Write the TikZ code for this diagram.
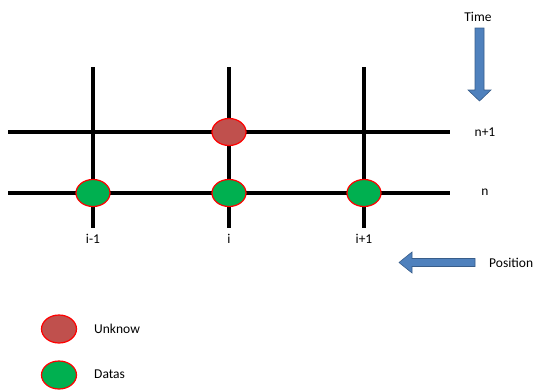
\documentclass[tikz,border=0pt]{standalone}
\usepackage{fontspec}
\setmainfont{Carlito}
\usetikzlibrary{shapes.geometric,arrows.meta}
\definecolor{unk}{HTML}{C0504D}
\definecolor{dat}{HTML}{00B050}
\definecolor{arrfill}{HTML}{4F81BD}
\definecolor{arrline}{HTML}{385D8A}
\tikzset{
  gridline/.style={line width=3.3pt, black},
  pt/.style={ellipse, draw=red, line width=1.2pt, minimum width=34pt, minimum height=27pt, inner sep=0pt},
  unknown/.style={pt, fill=unk},
  data/.style={pt, fill=dat},
  lbl/.style={font=\fontsize{13.5}{15}\selectfont, inner sep=0pt},
  bigarrow/.style={fill=arrfill, draw=arrline, line width=0.6pt}
}
\begin{document}
\begin{tikzpicture}[x=1pt,y=-1pt]
\useasboundingbox (0,0) rectangle (543,391);
% grid lines
\coordinate (h1a) at (8,132); \coordinate (h1b) at (450,132);
\coordinate (h2a) at (8,193); \coordinate (h2b) at (450,193);
\coordinate (v1a) at (93,67); \coordinate (v1b) at (93,228);
\coordinate (v2a) at (229,67); \coordinate (v2b) at (229,228);
\coordinate (v3a) at (364,67); \coordinate (v3b) at (364,228);
\draw[gridline] (h1a) -- (h1b);
\draw[gridline] (h2a) -- (h2b);
\draw[gridline] (v1a) -- (v1b);
\draw[gridline] (v2a) -- (v2b);
\draw[gridline] (v3a) -- (v3b);
% points
\node[unknown] (u) at (229,132) {};
\node[data] (d1) at (93,193) {};
\node[data] (d2) at (229,193) {};
\node[data] (d3) at (364,193) {};
% labels
\node[lbl] (ln1) at (485,132) {n+1};
\node[lbl] (ln) at (485,192) {n};
\node[lbl] (li1) at (93,239) {i-1};
\node[lbl] (li) at (229,239) {i};
\node[lbl] (li2) at (364,239) {i+1};
\node[lbl] (time) at (478,17) {Time};
\node[lbl, anchor=west] (pos) at (489,263) {Position};
% time arrow
\draw[bigarrow] (475,28) -- (484,28) -- (484,90) -- (491,90) -- (479.5,101) -- (468,90) -- (475,90) -- cycle;
% position arrow
\draw[bigarrow] (475,258.5) -- (475,266.5) -- (412,266.5) -- (412,273) -- (399,262.5) -- (412,252) -- (412,258.5) -- cycle;
% legend
\node[unknown, minimum width=35pt, minimum height=28pt] (lu) at (59,329) {};
\node[lbl, anchor=west] (lut) at (94,329) {Unknow};
\node[data, minimum width=35pt, minimum height=28pt] (ld) at (59,375) {};
\node[lbl, anchor=west] (ldt) at (94,374) {Datas};
\end{tikzpicture}
\end{document}
